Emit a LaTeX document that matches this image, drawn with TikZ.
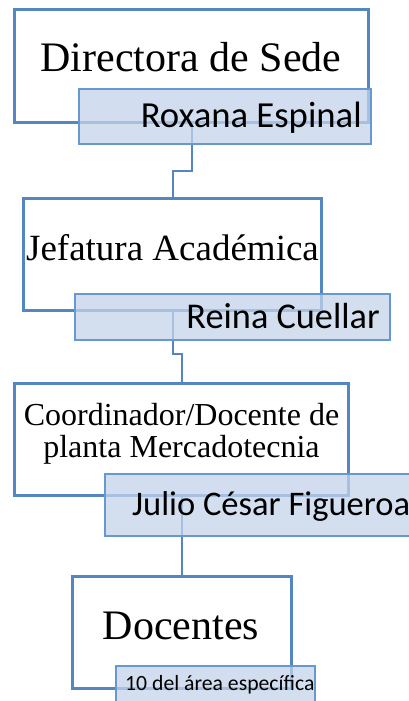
\documentclass[tikz,border=0pt]{standalone}
\usepackage{fontspec}
\setmainfont{Liberation Serif}
\newfontfamily\calib{Carlito}
\definecolor{bordblue}{RGB}{84,134,194}
\definecolor{namefill}{RGB}{196,212,234}
\definecolor{namebord}{RGB}{104,152,208}
\tikzset{
  bigbox/.style={draw=bordblue, line width=3pt, fill=white, inner sep=0pt, outer sep=0pt, anchor=north west},
  namebox/.style={draw=namebord, line width=2pt, fill=namefill, fill opacity=0.75, inner sep=0pt, outer sep=0pt, anchor=north west},
  conn/.style={draw=bordblue, line width=2pt},
  titletxt/.style={inner sep=0pt, anchor=base, font=\fontsize{#1}{#1}\selectfont},
  nametxt/.style={inner sep=0pt, font=\calib\fontsize{#1}{#1}\selectfont}
}
\begin{document}
\begin{tikzpicture}[x=1pt,y=1pt]
\useasboundingbox (0,0) rectangle (409,-701);
\clip (0,0) rectangle (409,-701);
% big boxes
\node[bigbox, minimum width=354pt, minimum height=113pt] (b1) at (14.5,-9.5) {};
\node[bigbox, minimum width=298pt, minimum height=112pt] (b2) at (23.5,-198.5) {};
\node[bigbox, minimum width=334pt, minimum height=112pt] (b3) at (14.5,-383.5) {};
\node[bigbox, minimum width=219pt, minimum height=112pt] (b4) at (72,-576.5) {};
% connectors
\coordinate (k1) at (191.5,-171);
\coordinate (k2) at (172.5,-354);
\draw[conn] (b1.south) -- (k1) -| (b2.north);
\draw[conn] (b2.south) -- (k2) -| (b3.north);
\draw[conn] (b3.south) -- (b4.north);
% name boxes
\node[namebox, minimum width=292pt, minimum height=55pt] (n1) at (79,-89) {};
\node[namebox, minimum width=315pt, minimum height=46pt] (n2) at (75,-294) {};
\node[namebox, minimum width=330pt, minimum height=62pt] (n3) at (105,-474) {};
\node[namebox, minimum width=199pt, minimum height=60pt] (n4) at (116,-666) {};
% titles
\node[titletxt=42] (t1) at (191,-71) {Directora de Sede};
\node[titletxt=37] (t2) at (172.5,-260) {Jefatura Académica};
\node[titletxt=32] (t3a) at (181.5,-425) {Coordinador/Docente de};
\node[titletxt=32] (t3b) at (181.5,-457) {planta Mercadotecnia};
\node[titletxt=42] (t4) at (181,-639) {Docentes};
% names
\node[nametxt=36.7, anchor=base east] (m1) at (362,-127) {Roxana Espinal};
\node[nametxt=36.3, anchor=base east] (m2) at (380,-328) {Reina Cuellar};
\node[nametxt=34.5, anchor=base west] (m3) at (132,-515) {Julio César Figueroa};
\node[nametxt=21.7, anchor=base west] (m4) at (125,-690) {10 del área específica};
\end{tikzpicture}
\end{document}
